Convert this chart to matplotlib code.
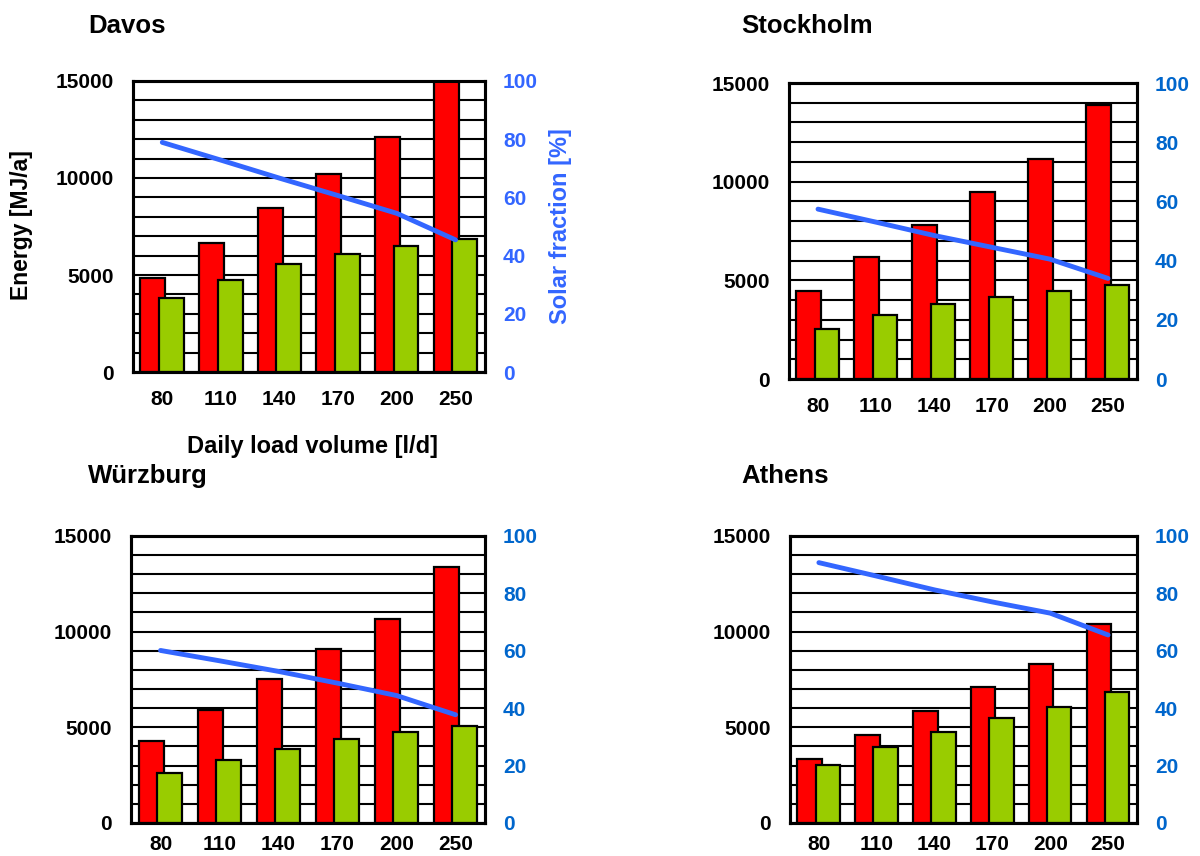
import numpy as np
import matplotlib
matplotlib.use("Agg")
import matplotlib.pyplot as plt

plt.rcParams['font.family'] = ['Liberation Sans', 'DejaVu Sans']
plt.rcParams['font.weight'] = 'bold'

# daily load volume categories
volumes = ["80", "110", "140", "170", "200", "250"]

# energy demand (red) and solar yield (green) in MJ/a, solar fraction in %
davos_red = [4850, 6630, 8470, 10230, 12090, 15000]
davos_green = [3840, 4750, 5550, 6090, 6500, 6860]
davos_frac = [78.9, 72.8, 66.6, 60.6, 54.5, 45.4]

stockholm_red = [4460, 6160, 7800, 9470, 11140, 13900]
stockholm_green = [2540, 3250, 3790, 4180, 4460, 4740]
stockholm_frac = [57.4, 53.0, 48.5, 44.5, 40.5, 34.0]

wurzburg_red = [4300, 5920, 7520, 9100, 10680, 13380]
wurzburg_green = [2610, 3270, 3880, 4380, 4730, 5080]
wurzburg_frac = [60.1, 56.5, 52.8, 48.7, 44.4, 37.7]

athens_red = [3340, 4580, 5830, 7080, 8330, 10390]
athens_green = [3040, 3970, 4750, 5460, 6060, 6820]
athens_frac = [90.7, 86.0, 81.2, 77.0, 73.1, 65.5]

RED = "#FF0000"
GREEN = "#99CC00"
LINE_BLUE = "#3366FF"
W, H = 1200, 856

fig = plt.figure(figsize=(12, 8.56), dpi=100)


def draw_panel(rect, title, title_xy, red, green, frac, right_color, xpad=13):
    ax = fig.add_axes(rect)
    x = np.arange(len(volumes))
    w = 0.425
    ax.bar(x - 0.16, red, width=w, color=RED, edgecolor="black", linewidth=1.6, zorder=3)
    ax.bar(x + 0.155, green, width=w, color=GREEN, edgecolor="black", linewidth=1.6, zorder=4)
    ax.set_xlim(-0.5, len(volumes) - 0.5)
    ax.set_ylim(0, 15000)
    ax.set_yticks([0, 5000, 10000, 15000])
    ax.set_yticks(range(0, 15001, 1000), minor=True)
    ax.yaxis.grid(True, which="both", color="black", linewidth=1.5, zorder=0)
    ax.set_axisbelow(True)
    ax.set_xticks(x)
    ax.set_xticklabels(volumes)
    ax.tick_params(axis="both", which="both", length=0, labelsize=15)
    ax.tick_params(axis="y", pad=14)
    ax.tick_params(axis="x", pad=xpad)
    for s in ax.spines.values():
        s.set_linewidth(2.2)

    ax2 = ax.twinx()
    ax2.plot(x, frac, color=LINE_BLUE, linewidth=3.5, solid_capstyle="round", zorder=5)
    ax2.set_ylim(0, 100)
    ax2.set_yticks(range(0, 101, 20))
    ax2.tick_params(axis="y", length=0, labelsize=15, labelcolor=right_color, pad=13)
    for s in ax2.spines.values():
        s.set_linewidth(2.2)

    fig.text(title_xy[0] / W, 1 - title_xy[1] / H, title, fontsize=18.5,
             fontweight="bold", va="baseline", ha="left")
    return ax, ax2


draw_panel([0.1108, 0.5654, 0.2933, 0.340], "Davos", (88, 33),
           davos_red, davos_green, davos_frac, "#3366FF")
draw_panel([0.6575, 0.5572, 0.29, 0.3458], "Stockholm", (741, 33),
           stockholm_red, stockholm_green, stockholm_frac, "#0066CC")
draw_panel([0.1092, 0.0386, 0.295, 0.3353], "Würzburg", (88, 483),
           wurzburg_red, wurzburg_green, wurzburg_frac, "#0066CC", xpad=9)
draw_panel([0.6583, 0.0386, 0.2892, 0.3353], "Athens", (741, 483),
           athens_red, athens_green, athens_frac, "#0066CC", xpad=9)

# axis titles only on the Davos panel
fig.text(22 / W, 1 - 225 / H, "Energy [MJ/a]", rotation=90, fontsize=16.5,
         fontweight="bold", ha="center", va="center")
fig.text(560 / W, 1 - 226 / H, "Solar fraction [%]", rotation=90, fontsize=17,
         fontweight="bold", ha="center", va="center", color="#3366FF")
fig.text(313 / W, 1 - 447 / H, "Daily load volume [l/d]", fontsize=17,
         fontweight="bold", ha="center", va="center")

fig.savefig("out.png", dpi=100)
